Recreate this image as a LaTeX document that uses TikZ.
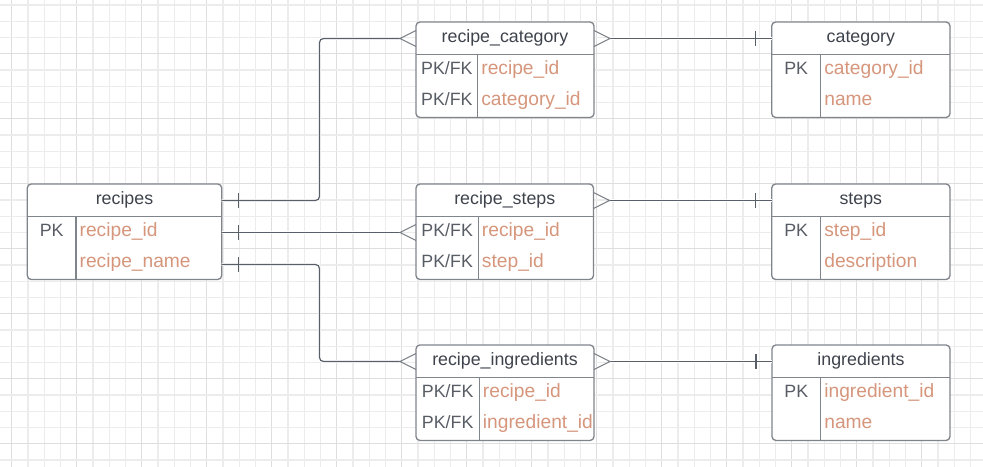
\documentclass[tikz,border=0pt]{standalone}
\usepackage{fontspec}
\setmainfont{Liberation Sans}
\usetikzlibrary{calc}
\definecolor{gridminor}{RGB}{236,236,236}
\definecolor{gridmajor}{RGB}{222,222,222}
\definecolor{boxline}{RGB}{128,133,140}
\definecolor{connline}{RGB}{88,95,105}
\definecolor{crowline}{RGB}{120,125,132}
\definecolor{titlecol}{RGB}{62,67,76}
\definecolor{keycol}{RGB}{88,93,101}
\definecolor{fieldcol}{RGB}{214,150,124}
\tikzset{
  tbox/.style={draw=boxline, line width=1pt, rounded corners=3pt, fill=white, inner sep=0pt, outer sep=0pt},
  tline/.style={draw=boxline, line width=1pt},
  ttitle/.style={inner sep=0pt, text=titlecol, font=\fontsize{13.35pt}{16pt}\selectfont},
  tkey/.style={inner sep=0pt, text=keycol, font=\fontsize{13.35pt}{16pt}\selectfont},
  tfield/.style={inner sep=0pt, text=fieldcol, font=\fontsize{14.4pt}{17pt}\selectfont},
  conn/.style={draw=connline, line width=0.9pt, rounded corners=3pt,
    preaction={draw=white, line width=2.2pt}},
  crow/.style={draw=crowline, line width=0.8pt},
  tick/.style={draw=connline, line width=0.9pt},
}
% #1 name, #2 left, #3 top, #4 width, #5 column width, #6 title
\newcommand\ertable[6]{%
  \node[tbox, minimum width={#4*0.75pt}, minimum height={95.5*0.75pt}, anchor=north west] (#1) at (#2,#3) {};
  \draw[tline] ([yshift={-32.5*0.75pt}]#1.north west) -- ([yshift={-32.5*0.75pt}]#1.north east);
  \draw[tline] ([xshift={#5*0.75pt},yshift={-32.5*0.75pt}]#1.north west) -- ([xshift={#5*0.75pt}]#1.south west);
  \node[ttitle, anchor=base] (#1-t) at ([yshift={-20.5*0.75pt}]#1.north) {#6};
  \coordinate (#1-hl) at ([yshift={-16.5*0.75pt}]#1.north west);
  \coordinate (#1-hr) at ([yshift={-16.5*0.75pt}]#1.north east);
  \coordinate (#1-r1l) at ([yshift={-48.5*0.75pt}]#1.north west);
  \coordinate (#1-r1r) at ([yshift={-48.5*0.75pt}]#1.north east);
  \coordinate (#1-r2r) at ([yshift={-80.5*0.75pt}]#1.north east);
}
% #1 table, #2 column width, #3 row index, #4 key, #5 field
\newcommand\errow[5]{%
  \node[tkey, anchor=base] (#1-k#3) at ([xshift={#2/2*0.75pt}, yshift={-(52.7+31*(#3-1))*0.75pt}]#1.north west) {#4};
  \node[tfield, anchor=base west] (#1-f#3) at ([xshift={(#2+3.4)*0.75pt}, yshift={-(52.7+31*(#3-1))*0.75pt}]#1.north west) {#5};
}
\begin{document}
\begin{tikzpicture}[x=0.75pt,y=-0.75pt]
\useasboundingbox (0,0) rectangle (983,467);
\fill[white] (0,0) rectangle (983,467);
% grid
\foreach \i in {-1,...,60}{
  \pgfmathsetmacro\gx{11.7+16.25*\i}
  \pgfmathtruncatemacro\gm{mod(\i+4,4)}
  \ifnum\gm=0 \draw[gridmajor, line width=0.9pt] (\gx,0) -- (\gx,467);
  \else \draw[gridminor, line width=0.9pt] (\gx,0) -- (\gx,467); \fi
}
\foreach \j in {-3,...,27}{
  \pgfmathsetmacro\gy{53.7+16.25*\j}
  \pgfmathtruncatemacro\gm{mod(\j+4,4)}
  \ifnum\gm=0 \draw[gridmajor, line width=0.9pt] (0,\gy) -- (983,\gy);
  \else \draw[gridminor, line width=0.9pt] (0,\gy) -- (983,\gy); \fi
}
% tables
\ertable{recipes}{27.3}{184}{194.4}{48.7}{recipes}
\errow{recipes}{48.7}{1}{PK}{recipe\_id}
\errow{recipes}{48.7}{2}{}{recipe\_name}

\ertable{rc}{416}{22}{178}{61.7}{recipe\_category}
\errow{rc}{61.7}{1}{PK/FK}{recipe\_id}
\errow{rc}{61.7}{2}{PK/FK}{category\_id}

\ertable{rs}{416}{184}{177.5}{62.3}{recipe\_steps}
\errow{rs}{62.3}{1}{PK/FK}{recipe\_id}
\errow{rs}{62.3}{2}{PK/FK}{step\_id}

\ertable{ri}{416}{345}{178}{63.3}{recipe\_ingredients}
\errow{ri}{63.3}{1}{PK/FK}{recipe\_id}
\errow{ri}{63.3}{2}{PK/FK}{ingredient\_id}

\ertable{category}{771.7}{22}{178.3}{49}{category}
\errow{category}{49}{1}{PK}{category\_id}
\errow{category}{49}{2}{}{name}

\ertable{steps}{771.7}{184}{178.3}{49}{steps}
\errow{steps}{49}{1}{PK}{step\_id}
\errow{steps}{49}{2}{}{description}

\ertable{ingredients}{772}{345}{178}{48.7}{ingredients}
\errow{ingredients}{48.7}{1}{PK}{ingredient\_id}
\errow{ingredients}{48.7}{2}{}{name}

% bend column
\coordinate (jx) at (319.5,0);

% connectors from recipes
\draw[conn] (recipes-hr) -- (recipes-hr -| jx) |- ($(rc-hl)+(-16,0)$);
\draw[conn] (recipes-r1r) -- ($(rs-r1l)+(-16,0)$);
\draw[conn] (recipes-r2r) -- (recipes-r2r -| jx) |- ($(ri-hl)+(-16,0)$);
\foreach \c in {recipes-hr,recipes-r1r,recipes-r2r}{
  \draw[tick] ($(\c)+(16.6,-7.5)$) -- ($(\c)+(16.6,7.5)$);
}
\foreach \c in {rc-hl,rs-r1l,ri-hl}{
  \draw[crow] ($(\c)+(0,-8)$) -- ($(\c)+(-16,0)$) -- ($(\c)+(0,8)$);
}
% junction to entity connectors
\draw[conn] ($(rc-hr)+(16,0)$) -- (category-hl);
\draw[conn] ($(rs-hr)+(16,0)$) -- (steps-hl);
\draw[conn] ($(ri-hr)+(16,0)$) -- (ingredients-hl);
\foreach \c in {rc-hr,rs-hr,ri-hr}{
  \draw[crow] ($(\c)+(0,-8)$) -- ($(\c)+(16,0)$) -- ($(\c)+(0,8)$);
}
\foreach \c in {category-hl,steps-hl,ingredients-hl}{
  \draw[tick] ($(\c)+(-16,-7.5)$) -- ($(\c)+(-16,7.5)$);
}
\end{tikzpicture}
\end{document}
